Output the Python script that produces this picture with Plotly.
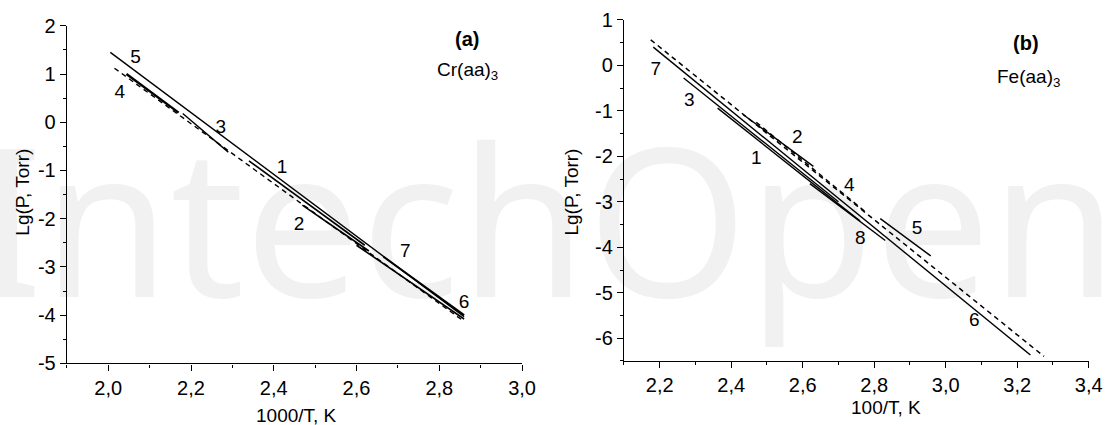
import plotly.graph_objects as go

# ---- Cr(aa)3 : lg P vs 1000/T, fitted segments ----
cr_ids     = ["5", "4", "4", "3", "1", "2", "7", "6"]
cr_x_start = [2.005, 2.015, 2.044, 2.180, 2.340, 2.469, 2.665, 2.600]
cr_x_end   = [2.860, 2.860, 2.170, 2.290, 2.620, 2.630, 2.860, 2.860]
cr_y_start = [1.45, 1.12, 1.00, 0.18, -0.80, -1.72, -2.79, -2.55]
cr_y_end   = [-4.03, -4.13, 0.20, -0.62, -2.55, -2.67, -4.00, -4.08]

cr_label_text = ["5", "4", "3", "1", "2", "7", "6"]
cr_label_x    = [2.066, 2.028, 2.272, 2.420, 2.461, 2.718, 2.860]
cr_label_y    = [1.32, 0.61, -0.12, -0.96, -2.14, -2.70, -3.75]

# ---- Fe(aa)3 : lg P vs 100/T, fitted segments ----
fe_ids     = ["7", "7", "3", "1", "2", "4", "8", "5"]
fe_x_start = [2.175, 2.182, 2.267, 2.362, 2.433, 2.470, 2.620, 2.817]
fe_x_end   = [3.275, 3.237, 2.700, 2.760, 2.630, 2.780, 2.831, 2.958]
fe_y_start = [0.56, 0.40, -0.28, -0.94, -1.08, -1.25, -2.60, -3.37]
fe_y_end   = [-6.40, -6.37, -3.00, -3.42, -2.22, -3.25, -3.85, -4.19]

fe_label_text = ["7", "3", "1", "2", "4", "8", "5", "6"]
fe_label_x    = [2.189, 2.283, 2.470, 2.585, 2.730, 2.761, 2.920, 3.080]
fe_label_y    = [-0.10, -0.79, -2.07, -1.60, -2.66, -3.83, -3.60, -5.62]

# axis tick values / labels (decimal comma, plain hyphen minus)
a_xticks = [2.0, 2.2, 2.4, 2.6, 2.8, 3.0]
a_yticks = [2, 1, 0, -1, -2, -3, -4, -5]
b_xticks = [2.2, 2.4, 2.6, 2.8, 3.0, 3.2, 3.4]
b_yticks = [1, 0, -1, -2, -3, -4, -5, -6]

# line styles per segment
cr_style = [("solid", 1.4), ("5px,4px", 1.4), ("solid", 2.4), ("solid", 1.4),
            ("solid", 1.6), ("solid", 1.6), ("solid", 2.0), ("solid", 1.6)]
fe_style = [("5px,4px", 1.5), ("solid", 1.4), ("solid", 1.4), ("solid", 1.4),
            ("solid", 1.4), ("5px,4px", 1.4), ("solid", 1.4), ("solid", 1.4)]

FONT = "Arial, Liberation Sans, sans-serif"


def xlabels(vals):
    return [f"{v:.1f}".replace(".", ",") for v in vals]


def ylabels(vals):
    return [str(v) for v in vals]


fig = go.Figure()


def add_segments(ids, xs, xe, ys, ye, styles, xa, ya):
    for i in range(len(ids)):
        dash, width = styles[i]
        fig.add_trace(go.Scatter(
            x=[xs[i], xe[i]], y=[ys[i], ye[i]],
            mode="lines", name=ids[i], showlegend=False,
            xaxis=xa, yaxis=ya,
            line=dict(color="black", width=width, dash=dash),
            hoverinfo="skip",
        ))


add_segments(cr_ids, cr_x_start, cr_x_end, cr_y_start, cr_y_end, cr_style, "x", "y")
add_segments(fe_ids, fe_x_start, fe_x_end, fe_y_start, fe_y_end, fe_style, "x2", "y2")

# curve numbers
fig.add_trace(go.Scatter(x=cr_label_x, y=cr_label_y, text=cr_label_text, mode="text",
                         textfont=dict(family=FONT, size=19, color="black"),
                         showlegend=False, hoverinfo="skip", xaxis="x", yaxis="y",
                         cliponaxis=False))
fig.add_trace(go.Scatter(x=fe_label_x, y=fe_label_y, text=fe_label_text, mode="text",
                         textfont=dict(family=FONT, size=19, color="black"),
                         showlegend=False, hoverinfo="skip", xaxis="x2", yaxis="y2",
                         cliponaxis=False))

axis_common = dict(
    showline=True, linecolor="black", linewidth=1.3, mirror=False,
    ticks="outside", ticklen=6, tickwidth=1.3, tickcolor="black",
    showgrid=False, zeroline=False,
    tickfont=dict(family=FONT, size=20, color="black"),
)
minor_x = dict(dtick=0.1, ticklen=3, tickwidth=1.3, tickcolor="black", ticks="outside", showgrid=False)
minor_y = dict(dtick=0.5, ticklen=3, tickwidth=1.3, tickcolor="black", ticks="outside", showgrid=False)

fig.update_layout(
    width=1105, height=425, autosize=False,
    margin=dict(l=0, r=0, t=0, b=0, pad=0),
    paper_bgcolor="white", plot_bgcolor="white",
    xaxis=dict(domain=[0.0613, 0.4785], range=[1.9, 3.0],
               tickmode="array", tickvals=a_xticks, ticktext=xlabels(a_xticks),
               minor=dict(tick0=1.9, **minor_x), anchor="y", **axis_common),
    yaxis=dict(domain=[0.1256, 0.9633], range=[-5, 2],
               tickmode="array", tickvals=a_yticks, ticktext=ylabels(a_yticks),
               minor=dict(tick0=0, **minor_y), anchor="x", **axis_common),
    xaxis2=dict(domain=[0.5719, 0.9979], range=[2.1, 3.4],
                tickmode="array", tickvals=b_xticks, ticktext=xlabels(b_xticks),
                minor=dict(tick0=2.1, **minor_x), anchor="y2", **axis_common),
    yaxis2=dict(domain=[0.1316, 0.9780], range=[-6.5, 1],
                tickmode="array", tickvals=b_yticks, ticktext=ylabels(b_yticks),
                minor=dict(tick0=0, **minor_y), anchor="x2", **axis_common),
)

# faint publisher mark behind the plots
fig.add_shape(type="rect", xref="paper", yref="paper", x0=0, x1=1, y0=0.2534, y1=0.6534,
              line=dict(width=0), fillcolor="rgba(0,0,0,0)", layer="below",
              label=dict(text="IntechOpen", textposition="middle center",
                         font=dict(family="Noto Sans, sans-serif", size=206, color="#f1f1f1")))

ann = []
# panel captions
ann.append(dict(x=2.868, y=1.73, xref="x", yref="y", text="<b>(a)</b>", showarrow=False,
                font=dict(family=FONT, size=20, color="black")))
ann.append(dict(x=2.868, y=1.06, xref="x", yref="y", text="Cr(aa)<sub>3</sub>", showarrow=False,
                font=dict(family=FONT, size=19, color="black")))
ann.append(dict(x=3.225, y=0.49, xref="x2", yref="y2", text="<b>(b)</b>", showarrow=False,
                font=dict(family=FONT, size=20, color="black")))
ann.append(dict(x=3.232, y=-0.28, xref="x2", yref="y2", text="Fe(aa)<sub>3</sub>", showarrow=False,
                font=dict(family=FONT, size=19, color="black")))
# axis titles
ann.append(dict(x=0.2720, y=-0.0026, xref="paper", yref="paper", text="1000/T, K",
                xanchor="center", yanchor="middle",
                showarrow=False, font=dict(family=FONT, size=19, color="black")))
ann.append(dict(x=0.8120, y=0.0171, xref="paper", yref="paper", text="100/T, K",
                xanchor="center", yanchor="middle",
                showarrow=False, font=dict(family=FONT, size=19, color="black")))
ann.append(dict(x=0.0209, y=0.5513, xref="paper", yref="paper", text="Lg(P, Torr)",
                xanchor="center", yanchor="middle",
                textangle=-90, showarrow=False, font=dict(family=FONT, size=19, color="black")))
ann.append(dict(x=0.5240, y=0.5513, xref="paper", yref="paper", text="Lg(P, Torr)",
                xanchor="center", yanchor="middle",
                textangle=-90, showarrow=False, font=dict(family=FONT, size=19, color="black")))
fig.update_layout(annotations=ann)

fig.write_html(
    "out.html",
    config={"responsive": False, "displayModeBar": False},
)
